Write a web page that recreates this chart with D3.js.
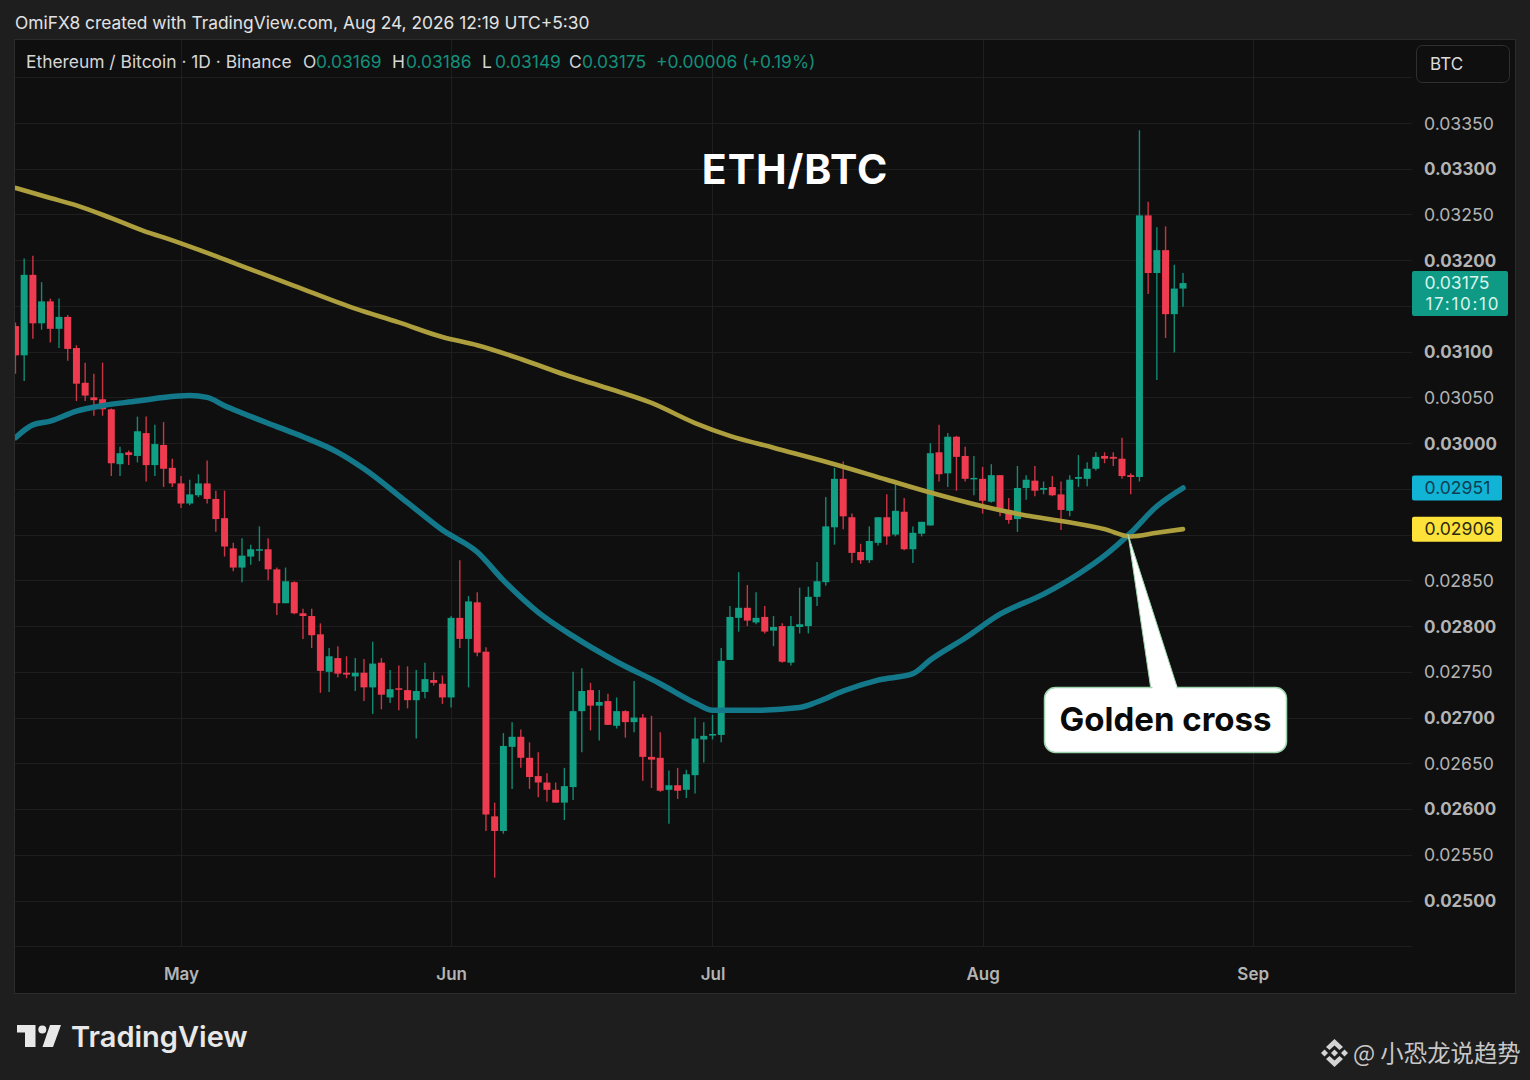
<!DOCTYPE html>
<html>
<head>
  <meta charset="utf-8">
  <title>ETH/BTC Golden cross</title>
  <style>
    html, body { margin: 0; padding: 0; background: #1e1e1e; }
    svg { display: block; }
    text { font-family: Inter, sans-serif; }
    .axis path, .axis line { display: none; }
  </style>
</head>
<body>
  <div id="chart"></div>

  <script src="https://d3js.org/d3.v7.min.js"></script>
  <script>
    // Daily candles, first one is 12 Apr 2026
    const firstDay = Date.UTC(2026, 3, 12);
    const dayMs = 86400000;

    const opens = [
      0.03128,0.03096,0.03184,0.03131,0.03155,0.03125,0.03138,0.03104,0.03066,0.03050,
      0.03048,0.03037,0.02977,0.02990,0.02986,0.03011,0.02976,0.02998,0.02973,0.02956,
      0.02934,0.02943,0.02956,0.02939,0.02918,0.02885,0.02864,0.02876,0.02883,0.02884,
      0.02862,0.02825,0.02848,0.02814,0.02811,0.02791,0.02750,0.02765,0.02749,0.02745,
      0.02749,0.02733,0.02760,0.02722,0.02732,0.02730,0.02719,0.02728,0.02741,0.02737,
      0.02722,0.02809,0.02786,0.02826,0.02772,0.02592,0.02576,0.02668,0.02679,0.02656,
      0.02636,0.02629,0.02621,0.02607,0.02624,0.02707,0.02730,0.02713,0.02718,0.02691,
      0.02707,0.02695,0.02700,0.02657,0.02656,0.02621,0.02626,0.02621,0.02637,0.02676,
      0.02681,0.02681,0.02763,0.02809,0.02820,0.02804,0.02810,0.02795,0.02800,0.02760,
      0.02799,0.02800,0.02832,0.02848,0.02908,0.02961,0.02919,0.02881,0.02872,0.02891,
      0.02919,0.02900,0.02925,0.02884,0.02901,0.02910,0.02990,0.02967,0.03007,0.02986,
      0.02961,0.02961,0.02936,0.02965,0.02927,0.02917,0.02951,0.02959,0.02949,0.02952,
      0.02944,0.02926,0.02961,0.02961,0.02972,0.02986,0.02985,0.02983,0.02965,0.02963,
      0.03249,0.03186,0.03211,0.03141,0.03169
    ];
    const highs = [
      0.03132,0.03202,0.03205,0.03176,0.03158,0.03158,0.03140,0.03107,0.03088,0.03076,
      0.03088,0.03038,0.02996,0.02992,0.03029,0.03029,0.03020,0.03023,0.02983,0.02964,
      0.02960,0.02966,0.02981,0.02948,0.02948,0.02891,0.02896,0.02889,0.02909,0.02896,
      0.02864,0.02864,0.02849,0.02819,0.02819,0.02803,0.02776,0.02778,0.02767,0.02765,
      0.02764,0.02783,0.02765,0.02752,0.02757,0.02756,0.02752,0.02760,0.02750,0.02746,
      0.02811,0.02872,0.02833,0.02837,0.02777,0.02607,0.02683,0.02695,0.02687,0.02673,
      0.02662,0.02639,0.02629,0.02645,0.02750,0.02754,0.02738,0.02730,0.02726,0.02722,
      0.02708,0.02740,0.02704,0.02702,0.02684,0.02642,0.02645,0.02643,0.02700,0.02695,
      0.02703,0.02776,0.02822,0.02859,0.02845,0.02837,0.02822,0.02811,0.02803,0.02811,
      0.02842,0.02843,0.02870,0.02941,0.02973,0.02980,0.02923,0.02890,0.02909,0.02919,
      0.02944,0.02955,0.02940,0.02909,0.02914,0.03000,0.03020,0.03011,0.03008,0.02996,
      0.02986,0.02974,0.02977,0.02965,0.02940,0.02975,0.02965,0.02975,0.02958,0.02964,
      0.02958,0.02965,0.02987,0.02979,0.02990,0.02990,0.02990,0.03006,0.02967,0.03342,
      0.03264,0.03236,0.03237,0.03195,0.03186
    ];
    const lows = [
      0.03076,0.03068,0.03114,0.03124,0.03110,0.03104,0.03090,0.03046,0.03046,0.03030,
      0.03030,0.02964,0.02964,0.02976,0.02979,0.02958,0.02964,0.02952,0.02952,0.02929,
      0.02932,0.02941,0.02934,0.02903,0.02876,0.02860,0.02848,0.02867,0.02871,0.02850,
      0.02812,0.02825,0.02813,0.02786,0.02776,0.02727,0.02728,0.02744,0.02743,0.02729,
      0.02718,0.02704,0.02709,0.02716,0.02708,0.02710,0.02677,0.02721,0.02735,0.02715,
      0.02711,0.02776,0.02733,0.02767,0.02576,0.02525,0.02573,0.02622,0.02645,0.02622,
      0.02613,0.02608,0.02607,0.02588,0.02610,0.02662,0.02686,0.02675,0.02692,0.02688,
      0.02678,0.02684,0.02631,0.02623,0.02619,0.02584,0.02611,0.02612,0.02617,0.02651,
      0.02676,0.02673,0.02763,0.02794,0.02800,0.02802,0.02792,0.02778,0.02760,0.02757,
      0.02792,0.02792,0.02822,0.02844,0.02889,0.02906,0.02869,0.02868,0.02869,0.02888,
      0.02889,0.02898,0.02883,0.02869,0.02898,0.02910,0.02958,0.02952,0.02948,0.02958,
      0.02943,0.02923,0.02935,0.02920,0.02912,0.02903,0.02938,0.02942,0.02944,0.02942,
      0.02905,0.02920,0.02952,0.02953,0.02970,0.02978,0.02975,0.02961,0.02944,0.02958,
      0.03163,0.03069,0.03115,0.03099,0.03149
    ];
    const closes = [
      0.03096,0.03184,0.03131,0.03155,0.03125,0.03138,0.03103,0.03065,0.03052,0.03047,
      0.03037,0.02978,0.02989,0.02987,0.03013,0.02976,0.02999,0.02972,0.02956,0.02934,
      0.02944,0.02956,0.02939,0.02917,0.02887,0.02864,0.02877,0.02884,0.02884,0.02862,
      0.02825,0.02849,0.02814,0.02811,0.02790,0.02751,0.02767,0.02748,0.02747,0.02749,
      0.02733,0.02759,0.02725,0.02731,0.02731,0.02719,0.02729,0.02742,0.02738,0.02722,
      0.02809,0.02786,0.02827,0.02771,0.02594,0.02576,0.02669,0.02679,0.02656,0.02635,
      0.02629,0.02621,0.02607,0.02625,0.02707,0.02729,0.02713,0.02717,0.02692,0.02707,
      0.02695,0.02700,0.02657,0.02654,0.02620,0.02626,0.02620,0.02638,0.02677,0.02680,
      0.02682,0.02762,0.02810,0.02820,0.02806,0.02809,0.02794,0.02799,0.02761,0.02800,
      0.02802,0.02832,0.02849,0.02909,0.02961,0.02920,0.02880,0.02872,0.02893,0.02919,
      0.02898,0.02926,0.02884,0.02902,0.02914,0.02989,0.02966,0.03007,0.02985,0.02961,
      0.02962,0.02937,0.02965,0.02928,0.02916,0.02951,0.02960,0.02948,0.02951,0.02943,
      0.02927,0.02960,0.02963,0.02972,0.02985,0.02983,0.02983,0.02964,0.02963,0.03249,
      0.03186,0.03211,0.03141,0.03169,0.03175
    ];

    // Moving averages, read at the days where the curve changes (days counted from firstDay)
    const slowDays = [0,4,7,11,15,17,22,27,32,39,44,49,53,58,63,68,73,78,82,87,94,100,105,111,116,120,125,128,131,134];
    const slowValues = [0.03279,0.03268,0.03260,0.03246,0.03231,0.03225,0.03208,0.03190,0.03172,0.03147,0.03132,0.03116,0.03107,0.03092,0.03075,0.03060,0.03044,0.03022,0.03008,0.02995,0.02977,0.02960,0.02946,0.02931,0.02921,0.02915,0.02906,0.02898,0.02902,0.02906];
    const fastDays = [0,2,4,7,10,14,17,20,22,24,26,30,33,37,40,45,49,53,56,60,64,69,74,78,80,85,90,92,95,99,103,105,109,113,118,122,125,128,131,134];
    const fastValues = [0.03006,0.03020,0.03024,0.03035,0.03041,0.03046,0.03050,0.03052,0.03050,0.03041,0.03033,0.03018,0.03007,0.02990,0.02972,0.02935,0.02905,0.02881,0.02850,0.02815,0.02789,0.02761,0.02737,0.02716,0.02708,0.02708,0.02711,0.02717,0.02729,0.02741,0.02748,0.02763,0.02787,0.02813,0.02835,0.02857,0.02877,0.02902,0.02931,0.02951];

    // Price axis: grid at every step, labels only where no tag covers them
    const gridPrices = d3.range(0, 20).map(i => +(0.0245 + i * 0.0005).toFixed(4));
    const priceLabels = [0.0335,0.033,0.0325,0.032,0.031,0.0305,0.03,0.0285,0.028,0.0275,0.027,0.0265,0.026,0.0255,0.025];
    const monthTicks = [new Date(Date.UTC(2026,4,1)), new Date(Date.UTC(2026,5,1)), new Date(Date.UTC(2026,6,1)), new Date(Date.UTC(2026,7,1)), new Date(Date.UTC(2026,8,1))];

    const legendParts = [
      ["O", 303, "#d6d6d6"], ["0.03169", 316, "#14907c"],
      ["H", 392, "#d6d6d6"], ["0.03186", 406, "#14907c"],
      ["L", 482, "#d6d6d6"], ["0.03149", 495, "#14907c"],
      ["C", 569, "#d6d6d6"], ["0.03175", 582, "#14907c"],
      ["+0.00006 (+0.19%)", 656, "#14907c"]
    ];

    const upColor = "#12a085";
    const downColor = "#ee3b50";

    const svg = d3.select("#chart")
      .append("svg")
      .attr("width", 1530)
      .attr("height", 1080)
      .attr("viewBox", [0, 0, 1530, 1080]);

    // Scales
    const xScale = d3.scaleUtc()
      .domain([monthTicks[0], monthTicks[4]])
      .range([181, 1252.7]);

    const yScale = d3.scaleLinear()
      .domain([0.025, 0.0335])
      .range([900.5, 123]);

    const dayX = i => xScale(new Date(firstDay + i * dayMs));

    // Panel
    svg.append("rect")
      .attr("x", 14.5).attr("y", 39.5)
      .attr("width", 1501).attr("height", 954)
      .attr("fill", "#0f0f0f")
      .attr("stroke", "#2b2b2b");

    svg.append("clipPath").attr("id", "plot")
      .append("rect")
      .attr("x", 15).attr("y", 40)
      .attr("width", 1400).attr("height", 906);

    // Grid
    const grid = svg.append("g").attr("stroke", "#1e1e1e").attr("stroke-width", 1);
    grid.selectAll(".h").data(gridPrices).enter().append("line")
      .attr("x1", 15).attr("x2", 1412)
      .attr("y1", d => Math.round(yScale(d)) + 0.5)
      .attr("y2", d => Math.round(yScale(d)) + 0.5);
    grid.selectAll(".v").data(monthTicks).enter().append("line")
      .attr("y1", 40).attr("y2", 946)
      .attr("x1", d => Math.round(xScale(d)) + 0.5)
      .attr("x2", d => Math.round(xScale(d)) + 0.5);

    // Axes
    const yAxis = d3.axisRight(yScale)
      .tickValues(priceLabels)
      .tickSize(0)
      .tickPadding(0)
      .tickFormat(d3.format(".5f"));
    svg.append("g")
      .attr("class", "axis")
      .attr("transform", "translate(1424, 0.5)")
      .call(yAxis)
      .selectAll("text")
      .attr("fill", "#b4b4b4")
      .style("font-family", "Inter, sans-serif")
      .style("font-size", d => Math.round(d * 1e5) % 100 === 0 ? "17px" : "17.6px")
      .style("font-weight", d => Math.round(d * 1e5) % 100 === 0 ? 700 : 400);

    const xAxis = d3.axisBottom(xScale)
      .tickValues(monthTicks)
      .tickSize(0)
      .tickPadding(0)
      .tickFormat(d3.utcFormat("%b"));
    svg.append("g")
      .attr("class", "axis")
      .attr("transform", "translate(0, 968)")
      .call(xAxis)
      .selectAll("text")
      .attr("fill", "#b4b4b4")
      .style("font-family", "Inter, sans-serif")
      .style("font-size", "17px")
      .style("font-weight", 600);

    const plot = svg.append("g").attr("clip-path", "url(#plot)");

    // Candles
    const candles = plot.selectAll(".candle")
      .data(opens.map((o, i) => ({ i, o, h: highs[i], l: lows[i], c: closes[i] })))
      .enter()
      .append("g")
      .attr("fill", d => d.c >= d.o ? upColor : downColor)
      .attr("stroke", d => d.c >= d.o ? upColor : downColor);

    candles.append("line")
      .attr("x1", d => dayX(d.i)).attr("x2", d => dayX(d.i))
      .attr("y1", d => yScale(d.h)).attr("y2", d => yScale(d.l))
      .attr("stroke-width", 1.4)
      .attr("opacity", 0.85);

    candles.append("rect")
      .attr("x", d => dayX(d.i) - 3.5)
      .attr("width", 7)
      .attr("y", d => yScale(Math.max(d.o, d.c)))
      .attr("height", d => Math.max(1.5, Math.abs(yScale(d.o) - yScale(d.c))))
      .attr("stroke", "none");

    // Moving averages
    const maLine = d3.line()
      .x(d => dayX(d[0]))
      .y(d => yScale(d[1]))
      .curve(d3.curveMonotoneX);

    plot.append("path")
      .attr("d", maLine(d3.zip(fastDays, fastValues)))
      .attr("fill", "none")
      .attr("stroke", "#13798a")
      .attr("stroke-width", 5.5)
      .attr("stroke-linecap", "round");

    plot.append("path")
      .attr("d", maLine(d3.zip(slowDays, slowValues)))
      .attr("fill", "none")
      .attr("stroke", "#ad9f3e")
      .attr("stroke-width", 4.6)
      .attr("stroke-linecap", "round");

    // Header and legend
    svg.append("text")
      .attr("x", 15).attr("y", 29)
      .attr("fill", "#e2e2e2")
      .style("font-size", "17.35px")
      .text("OmiFX8 created with TradingView.com, Aug 24, 2026 12:19 UTC+5:30");

    svg.append("text")
      .attr("x", 26).attr("y", 68)
      .attr("fill", "#d6d6d6")
      .style("font-size", "17.4px")
      .text("Ethereum / Bitcoin · 1D · Binance");

    svg.selectAll(".legend").data(legendParts).enter().append("text")
      .attr("x", d => d[1]).attr("y", 68)
      .attr("fill", d => d[2])
      .style("font-size", "17.4px")
      .text(d => d[0]);

    svg.append("rect")
      .attr("x", 1416.5).attr("y", 45.5)
      .attr("width", 93).attr("height", 37)
      .attr("rx", 6)
      .attr("fill", "#0f0f0f")
      .attr("stroke", "#303030");
    svg.append("text")
      .attr("x", 1430).attr("y", 69.5)
      .attr("fill", "#dcdcdc")
      .style("font-size", "17px")
      .text("BTC");

    // Title
    svg.append("text")
      .attr("x", 795).attr("y", 183.5)
      .attr("text-anchor", "middle")
      .attr("fill", "#fff")
      .style("font-size", "41px")
      .style("font-weight", 700)
      .style("letter-spacing", "0.9px")
      .text("ETH/BTC");

    // Price tags
    const tagY = p => yScale(p);
    svg.append("rect")
      .attr("x", 1412).attr("y", tagY(0.03175) - 12)
      .attr("width", 96).attr("height", 45)
      .attr("rx", 2)
      .attr("fill", "#0e9a84");
    svg.append("text")
      .attr("x", 1424.5).attr("y", tagY(0.03175) + 6)
      .attr("fill", "#d8f3ec")
      .style("font-size", "17.6px")
      .text("0.03175");
    svg.append("text")
      .attr("x", 1425.5).attr("y", tagY(0.03175) + 27)
      .attr("fill", "#d8f3ec")
      .style("font-size", "17px")
      .style("letter-spacing", "1.7px")
      .text("17:10:10");

    svg.append("rect")
      .attr("x", 1412).attr("y", tagY(0.02951) - 12.5)
      .attr("width", 90).attr("height", 25)
      .attr("rx", 2)
      .attr("fill", "#12b4d6");
    svg.append("text")
      .attr("x", 1424.5).attr("y", tagY(0.02951) + 6)
      .attr("fill", "#0d3f52")
      .style("font-size", "17.6px")
      .text("0.02951");

    svg.append("rect")
      .attr("x", 1412).attr("y", tagY(0.02906) - 12.5)
      .attr("width", 90).attr("height", 25)
      .attr("rx", 2)
      .attr("fill", "#fde23a");
    svg.append("text")
      .attr("x", 1424.5).attr("y", tagY(0.02906) + 6)
      .attr("fill", "#2b2a10")
      .style("font-size", "17.6px")
      .text("0.02906");

    // Golden cross callout
    const crossDay = 127.7;
    const callout = svg.append("g");
    callout.append("path")
      .attr("d", `M${dayX(crossDay)},${yScale(0.02900)} L1151,690 L1178,690 Z`)
      .attr("fill", "#fff")
      .attr("stroke", "#9fd3ae")
      .attr("stroke-width", 1);
    callout.append("rect")
      .attr("x", 1044.5).attr("y", 687.5)
      .attr("width", 242).attr("height", 65)
      .attr("rx", 11)
      .attr("fill", "#fff")
      .attr("stroke", "#9fd3ae")
      .attr("stroke-width", 1.5);
    callout.append("path")
      .attr("d", "M1152.5,685 L1176.5,685 L1176.5,690 L1152.5,690 Z")
      .attr("fill", "#fff");
    callout.append("text")
      .attr("x", 1165.5).attr("y", 731)
      .attr("text-anchor", "middle")
      .attr("fill", "#0a0a0a")
      .style("font-size", "33px")
      .style("font-weight", 700)
      .text("Golden cross");

    // TradingView mark
    const logo = svg.append("g").attr("fill", "#e8e8e8");
    logo.append("path").attr("d", "M17,1025 H35.5 V1047 H25 V1032.5 H17 Z");
    logo.append("circle").attr("cx", 42.3).attr("cy", 1029.5).attr("r", 4);
    logo.append("path").attr("d", "M50,1025 H61 L53,1047 H42.5 Z");
    svg.append("text")
      .attr("x", 71).attr("y", 1046.5)
      .attr("fill", "#e8e8e8")
      .style("font-size", "29px")
      .style("font-weight", 600)
      .text("TradingView");

    // Watermark
    const mark = svg.append("g").attr("fill", "#d4d4d4");
    mark.append("path").attr("d", "M1334.5,1039 L1343,1047 L1339.5,1050 L1334.5,1045.5 L1329.5,1050 L1326,1047 Z");
    mark.append("path").attr("d", "M1334.5,1067 L1343,1059 L1339.5,1056 L1334.5,1060.5 L1329.5,1056 L1326,1059 Z");
    mark.append("path").attr("d", "M1321,1053 L1324.5,1049.5 L1328,1053 L1324.5,1056.5 Z");
    mark.append("path").attr("d", "M1341,1053 L1344.5,1049.5 L1348,1053 L1344.5,1056.5 Z");
    mark.append("path").attr("d", "M1331,1053 L1334.5,1049.5 L1338,1053 L1334.5,1056.5 Z");
    svg.append("text")
      .attr("x", 1353).attr("y", 1061.5)
      .attr("fill", "#c8c8c8")
      .style("font-family", "'Noto Sans CJK SC', sans-serif")
      .style("font-size", "23.4px")
      .text("@ 小恐龙说趋势");
  </script>
</body>
</html>
